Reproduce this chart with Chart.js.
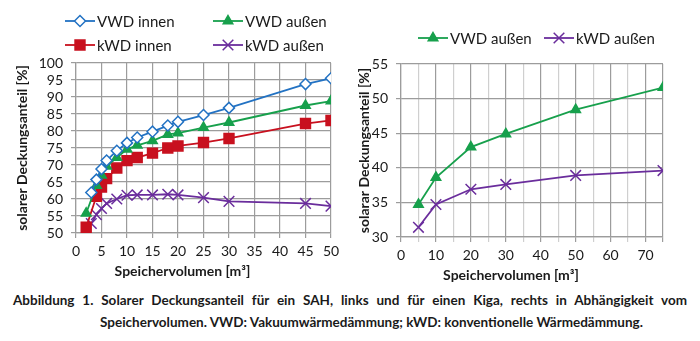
<!DOCTYPE html>
<html>
  <head>
    <title>Solarer Deckungsanteil</title>
    <script src="https://cdn.jsdelivr.net/npm/chart.js@4.4.0/dist/chart.umd.min.js"></script>
    <style>
      body { margin: 0; background: #fff; width: 700px; height: 341px; position: relative; overflow: hidden; }
      #left { position: absolute; left: 0; top: 0; width: 345px; height: 285px; }
      #right { position: absolute; left: 345px; top: 0; width: 355px; height: 285px; }
      #caption {
        position: absolute; left: 13px; top: 289px; width: 674px;
        font-family: Lato, sans-serif; font-weight: bold; font-size: 13.5px;
        line-height: 22px; color: #1a1a1a; text-align: justify;
        padding-left: 87px; text-indent: -87px; box-sizing: border-box;
      }
    </style>
  </head>
  <body>
    <div id="left"><canvas id="chartLeft"></canvas></div>
    <div id="right"><canvas id="chartRight"></canvas></div>
    <div id="caption">Abbildung 1. Solarer Deckungsanteil für ein SAH, links und für einen Kiga, rechts in Abhängigkeit vom Speichervolumen. VWD: Vakuumwärmedämmung; kWD: konventionelle Wärmedämmung.</div>

    <script>
      // left chart (SAH)
      var volA = [3, 4, 5, 6, 8, 10, 12, 15, 18, 20, 25, 30, 45, 50];
      var volB = [2, 4, 5, 6, 8, 10, 12, 15, 18, 20, 25, 30, 45, 50];
      var vwdInnen = [61.9, 65.7, 68.8, 71.3, 74.2, 76.5, 78.1, 79.8, 81.6, 82.7, 84.7, 86.8, 93.8, 95.5];
      var vwdAussen = [55.8, 64, 67, 69.6, 72.2, 74.6, 75.8, 77.1, 79, 79.4, 81, 82.5, 87.5, 88.8];
      var kwdInnen = [51.7, 60.8, 63.5, 66, 69.1, 71.3, 72.2, 73.5, 75, 75.6, 76.6, 77.8, 82.2, 83.1];
      var kwdAussen = [52.8, 55.4, 57.2, 58.7, 60, 61.1, 61.2, 61.2, 61.4, 61.2, 60.4, 59.3, 58.7, 57.9];

      // right chart (Kiga)
      var volKiga = [5, 10, 20, 30, 50, 75];
      var vwdAussenKiga = [34.7, 38.6, 43, 44.9, 48.4, 51.6];
      var kwdAussenKiga = [31.4, 34.7, 36.9, 37.6, 38.9, 39.6];

      var xTitle = "Speichervolumen [m³]";

      var BLUE = "#2272c3", GREEN = "#17a04c", RED = "#c8101e", PURPLE = "#6a2d9c";
      var GRID = "#9c9c9c", GRID_LIGHT = "#cfcfcf";

      Chart.defaults.font.family = "Lato, sans-serif";
      Chart.defaults.color = "#1a1a1a";

      function pts(xs, ys) {
        return xs.map(function (x, i) { return { x: x, y: ys[i] }; });
      }

      function series(label, xs, ys, color, style, radius, hollow) {
        return {
          label: label,
          data: pts(xs, ys),
          showLine: true,
          borderColor: color,
          borderWidth: 1.8,
          pointStyle: style,
          pointRadius: radius,
          pointHoverRadius: radius,
          pointBorderWidth: 1.5,
          pointBorderColor: color,
          pointBackgroundColor: hollow ? "#fff" : color,
          tension: 0
        };
      }

      // legend drawn as line + marker + text, plus the x-axis title
      var lineLegend = {
        id: "lineLegend",
        afterDraw: function (chart, args, opts) {
          var ctx = chart.ctx;
          opts.items.forEach(function (it) {
            var ds = chart.data.datasets[it.index];
            ctx.save();
            ctx.strokeStyle = ds.borderColor;
            ctx.lineWidth = ds.borderWidth;
            ctx.beginPath();
            ctx.moveTo(it.x, it.y);
            ctx.lineTo(it.x + 30, it.y);
            ctx.stroke();
            ctx.fillStyle = ds.pointBackgroundColor;
            ctx.strokeStyle = ds.pointBorderColor;
            ctx.lineWidth = ds.pointBorderWidth;
            Chart.helpers.drawPoint(ctx, {
              pointStyle: ds.pointStyle, radius: ds.pointRadius,
              borderWidth: ds.pointBorderWidth, rotation: 0
            }, it.x + 15, it.y);
            ctx.fillStyle = "#1a1a1a";
            ctx.font = "15px Lato, sans-serif";
            ctx.textBaseline = "middle";
            ctx.textAlign = "left";
            ctx.fillText(ds.label, it.x + 32, it.y + 1);
            ctx.restore();
          });
          var a = chart.chartArea;
          ctx.save();
          ctx.fillStyle = "#1a1a1a";
          ctx.font = "bold 14px Lato, sans-serif";
          ctx.textAlign = "center";
          ctx.textBaseline = "middle";
          ctx.fillText(xTitle, (a.left + a.right) / 2 - 21, a.bottom + 38);
          ctx.restore();
        }
      };

      function yAxis(min, max, title, width, pad) {
        return {
          min: min, max: max,
          ticks: { stepSize: 5, padding: 8, autoSkip: false, font: { size: 14 }, color: "#1a1a1a" },
          grid: { color: GRID, lineWidth: 1.2, tickLength: 5 },
          border: { color: GRID, width: 1.2 },
          title: { display: true, text: title, font: { size: 14, weight: "bold" }, padding: { top: pad, bottom: 0 } },
          afterFit: function (s) { s.width = width; }
        };
      }

      new Chart(document.getElementById("chartLeft"), {
        type: "scatter",
        data: {
          datasets: [
            series("VWD innen", volA, vwdInnen, BLUE, "rectRot", 5.5, true),
            series("VWD außen", volB, vwdAussen, GREEN, "triangle", 5.5, false),
            series("kWD innen", volB, kwdInnen, RED, "rect", 7, false),
            series("kWD außen", volA, kwdAussen, PURPLE, "crossRot", 7.5, false)
          ]
        },
        options: {
          responsive: true,
          maintainAspectRatio: false,
          animation: false,
          layout: { padding: { top: 63, right: 14, left: 0, bottom: 0 } },
          plugins: {
            legend: { display: false },
            tooltip: { enabled: false },
            lineLegend: {
              items: [
                { index: 0, x: 65, y: 21 },
                { index: 1, x: 213, y: 21 },
                { index: 2, x: 65, y: 45 },
                { index: 3, x: 213, y: 45 }
              ]
            }
          },
          scales: {
            x: {
              type: "linear", min: 0, max: 50,
              ticks: { stepSize: 5, padding: 5, autoSkip: false, maxRotation: 0, font: { size: 14 }, color: "#1a1a1a" },
              grid: { color: GRID, lineWidth: 1.2, tickLength: 5 },
              border: { color: GRID, width: 1.2 },
              afterFit: function (s) { s.height = 52; }
            },
            y: yAxis(50, 100, "solarer Deckungsanteil [%]", 76, 14)
          }
        },
        plugins: [lineLegend]
      });

      new Chart(document.getElementById("chartRight"), {
        type: "scatter",
        data: {
          datasets: [
            series("VWD außen", volKiga, vwdAussenKiga, GREEN, "triangle", 5.5, false),
            series("kWD außen", volKiga, kwdAussenKiga, PURPLE, "crossRot", 7.5, false)
          ]
        },
        options: {
          responsive: true,
          maintainAspectRatio: false,
          animation: false,
          layout: { padding: { top: 64, right: 37, left: 0, bottom: 0 } },
          plugins: {
            legend: { display: false },
            tooltip: { enabled: false },
            lineLegend: {
              items: [
                { index: 0, x: 73, y: 38 },
                { index: 1, x: 199, y: 38 }
              ]
            }
          },
          scales: {
            x: {
              type: "linear", min: 0, max: 75,
              ticks: {
                stepSize: 5, padding: 5, autoSkip: false, maxRotation: 0, font: { size: 14 }, color: "#1a1a1a",
                callback: function (v) { return (v % 10 === 0 && v <= 70) ? v : ""; }
              },
              grid: {
                color: function (c) {
                  var v = c.tick ? c.tick.value : 0;
                  return (v % 10 === 0 || v === 75) ? GRID : GRID_LIGHT;
                },
                lineWidth: 1.2, tickLength: 5
              },
              border: { color: GRID, width: 1.2 },
              afterFit: function (s) { s.height = 48; }
            },
            y: yAxis(30, 55, "solarar Deckungsanteil [%]", 56, 11)
          }
        },
        plugins: [lineLegend]
      });
    </script>
  </body>
</html>
